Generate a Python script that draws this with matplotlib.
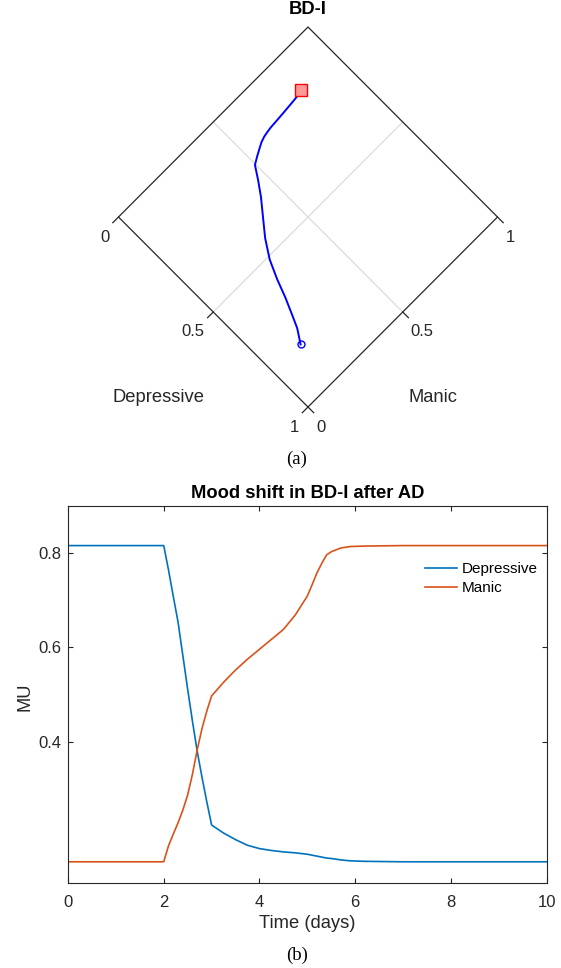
#!/usr/bin/env python3
"""
Mood trajectory of BD-I after AD: ternary-like diamond view and time course.
"""

import matplotlib.pyplot as plt
import numpy as np

# time points (days) and mood unit values
time_days = [0.0, 2.0, 2.1, 2.2, 2.3, 2.4, 2.5, 2.6, 2.7, 2.8, 2.9, 3.0,
             3.25, 3.5, 3.75, 4.0, 4.25, 4.5, 4.75, 5.0, 5.1, 5.2, 5.3, 5.4,
             5.5, 5.7, 5.9, 6.2, 7.0, 10.0]
depressive = [0.816, 0.816, 0.764, 0.708, 0.653, 0.582, 0.511, 0.443, 0.379,
              0.324, 0.272, 0.223, 0.206, 0.192, 0.180, 0.173, 0.169, 0.166,
              0.164, 0.161, 0.159, 0.157, 0.155, 0.153, 0.152, 0.149, 0.147,
              0.146, 0.145, 0.145]
manic = [0.145, 0.145, 0.179, 0.204, 0.228, 0.255, 0.287, 0.331, 0.383,
         0.428, 0.465, 0.497, 0.526, 0.552, 0.575, 0.596, 0.617, 0.638,
         0.669, 0.709, 0.733, 0.758, 0.778, 0.796, 0.803, 0.811, 0.814,
         0.815, 0.816, 0.816]

diamond_ticks = [0, 0.5, 1]
tick_labels = ['0', '0.5', '1']
x_ticks = [0, 2, 4, 6, 8, 10]
y_ticks = [0.4, 0.6, 0.8]

SANS = 'Liberation Sans'
SERIF = 'Liberation Serif'
TXT = '#262626'
W, H = 561, 968


def to_xy(d, m):
    # bottom vertex = (dep 1, man 0), left = (0, 0), right = (1, 1), top = (0, 1)
    d = np.asarray(d, dtype=float)
    m = np.asarray(m, dtype=float)
    return m + d - 1, 1 - d + m


def plot_mood():
    plt.rcParams['font.family'] = SANS
    fig = plt.figure(figsize=(W / 100, H / 100), dpi=100)

    # ---- (a) diamond view ----
    ax = fig.add_axes([118.5 / W, 1 - 407 / H, 379 / W, 380 / H])
    ax.set_xlim(-1, 1)
    ax.set_ylim(0, 2)
    ax.axis('off')

    # outline
    ox, oy = to_xy([1, 0, 0, 1, 1], [0, 0, 1, 1, 0])
    ax.plot(ox, oy, color='#262626', lw=0.9, clip_on=False)
    # grid at 0.5
    gx, gy = to_xy([0.5, 0.5], [0, 1])
    ax.plot(gx, gy, color='#dcdcdc', lw=0.9, zorder=0)
    gx, gy = to_xy([0, 1], [0.5, 0.5])
    ax.plot(gx, gy, color='#dcdcdc', lw=0.9, zorder=0)

    tl = 0.03
    for v, lab in zip(diamond_ticks, tick_labels):
        # depressive axis (manic = 0), outward normal (-1, -1)
        x, y = to_xy(v, 0)
        ax.plot([x, x - tl], [y, y - tl], color='#262626', lw=0.9, clip_on=False)
        ax.annotate(lab, (x, y), xytext=(-6.5, -14.4), textcoords='offset points',
                    ha='right', va='center', fontsize=12, color=TXT)
        # manic axis (depressive = 1), outward normal (1, -1)
        x, y = to_xy(1, v)
        ax.plot([x, x + tl], [y, y - tl], color='#262626', lw=0.9, clip_on=False)
        ax.annotate(lab, (x, y), xytext=(5.8, -14.4), textcoords='offset points',
                    ha='left', va='center', fontsize=12, color=TXT)

    px, py = to_xy(depressive, manic)
    ax.plot(px, py, color='blue', lw=1.4)
    ax.plot(px[0], py[0], 'o', ms=5, mfc='none', mec='blue', mew=1.0)
    ax.plot(px[-1], py[-1], 's', ms=8, mfc='#ff9a9a', mec='red', mew=1.0)

    fig.text(159 / W, 1 - 398 / H, 'Depressive', ha='center', va='center',
             fontsize=13.2, color=TXT)
    fig.text(433 / W, 1 - 398 / H, 'Manic', ha='center', va='center',
             fontsize=13.2, color=TXT)
    fig.text(308 / W, 1 - 10 / H, 'BD-I', ha='center', va='center',
             fontsize=13.2, fontweight='bold', color='black')
    fig.text(297 / W, 1 - 459 / H, '(a)', ha='center', va='center',
             fontsize=13.5, family=SERIF)

    # ---- (b) time course ----
    bx = fig.add_axes([68 / W, 1 - 883 / H, 478.7 / W, 377 / H])
    bx.plot(time_days, depressive, color='#0072BD', lw=1.2, label='Depressive')
    bx.plot(time_days, manic, color='#D95319', lw=1.2, label='Manic')
    bx.set_xlim(0, 10)
    bx.set_ylim(0.1, 0.9)
    bx.set_xticks(x_ticks)
    bx.set_yticks(y_ticks)
    bx.set_yticklabels([f'{v:.1f}' for v in y_ticks])
    bx.tick_params(direction='in', top=True, right=True, length=3.5,
                   width=0.8, labelsize=12, colors='#262626')
    bx.tick_params(axis='x', pad=8.5)
    bx.tick_params(axis='y', pad=4.5)
    for s in bx.spines.values():
        s.set_color('#262626')
        s.set_linewidth(0.8)
    bx.set_xlabel('Time (days)', fontsize=13.2, color=TXT, va='center')
    bx.xaxis.set_label_coords(0.5, (883 - 923.3) / 377)
    bx.set_ylabel('MU', fontsize=13.2, color=TXT, va='center')
    bx.yaxis.set_label_coords((25 - 68) / 478.7, 0.494)
    bx.set_title('Mood shift in BD-I after AD', fontsize=13.2,
                 fontweight='bold', pad=6)
    bx.legend(loc='upper right', frameon=False, fontsize=11,
              handlelength=2.1, handletextpad=0.3, borderaxespad=0.2,
              labelspacing=0.3, bbox_to_anchor=(1.0, 0.875))
    fig.text(297 / W, 1 - 955 / H, '(b)', ha='center', va='center',
             fontsize=13.5, family=SERIF)

    fig.savefig('out.png', dpi=100)
    plt.close(fig)


if __name__ == '__main__':
    plot_mood()
